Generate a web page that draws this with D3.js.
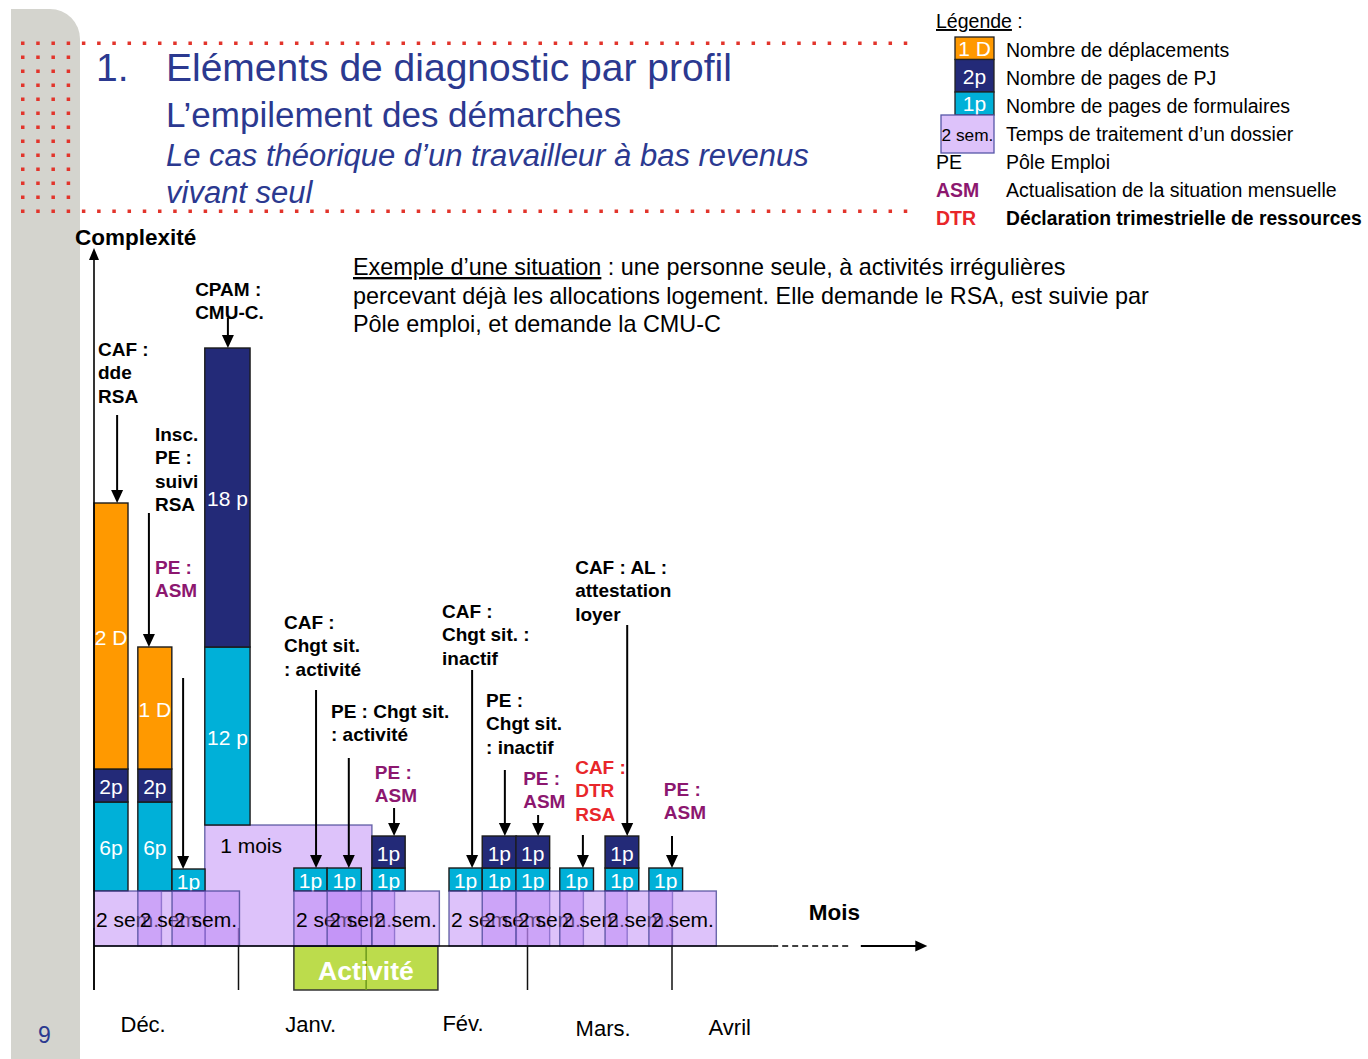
<!DOCTYPE html>
<html><head><meta charset="utf-8">
<script src="https://cdn.jsdelivr.net/npm/d3@7"></script>
<style>
body{margin:0;background:#fff;}
svg{display:block;font-family:"Liberation Sans",Arial,Helvetica,sans-serif;}
</style>
</head><body>
<svg id="c" width="1368" height="1059"></svg>
<script>
// ---------------- DATA ----------------
// each démarche (event): start day, width in days of its stack
const eventStart = [0, 9.1, 16.2, 23, 41.5, 48.4, 57.7, 73.7, 80.6, 87.6, 96.7, 106.1, 115.2];
const eventWidth = [7.06, 7.06, 6.85, 9.4, 6.9, 7.1, 6.9, 6.9, 7.1, 7.0, 7.0, 7.0, 7.0];
// processing time box (temps de traitement)
const delayDays   = [14, 14, 14, 34.7, 14, 14, 14, 14, 14, 14, 14, 14, 14];
const delayHeight = [5.5, 5.5, 5.5, 12.1, 5.5, 5.5, 5.5, 5.5, 5.5, 5.5, 5.5, 5.5, 5.5];
const delayLabel  = ["2 sem.","2 sem.","2 sem.","1 mois","2 sem.","2 sem.","2 sem.","2 sem.","2 sem.","2 sem.","2 sem.","2 sem.","2 sem."];
// pages de formulaires (cyan)
const formPages = [8.9, 8.9, 2.2, 17.8, 2.3, 2.3, 2.3, 2.3, 2.3, 2.3, 2.3, 2.3, 2.3];
const formLabel = ["6p","6p","1p","12 p","1p","1p","1p","1p","1p","1p","1p","1p","1p"];
// pages de PJ (navy)
const pjPages = [3.3, 3.3, 0, 29.9, 0, 0, 3.2, 0, 3.2, 3.2, 0, 3.2, 0];
const pjLabel = ["2p","2p","","18 p","","","1p","","1p","1p","","1p",""];
// déplacements (orange)
const deplacements = [26.6, 12.2, 0, 0, 0, 0, 0, 0, 0, 0, 0, 0, 0];
const deplLabel = ["2 D","1 D","","","","","","","","","","",""];
// annotations (one per démarche)
const annotLines = [
  ["CAF :","dde","RSA"],
  ["Insc.","PE :","suivi","RSA"],
  ["PE :","ASM"],
  ["CPAM :","CMU-C."],
  ["CAF :","Chgt sit.",": activité"],
  ["PE : Chgt sit.",": activité"],
  ["PE :","ASM"],
  ["CAF :","Chgt sit. :","inactif"],
  ["PE :","Chgt sit.",": inactif"],
  ["PE :","ASM"],
  ["CAF :","DTR","RSA"],
  ["CAF : AL :","attestation","loyer"],
  ["PE :","ASM"]
];
const annotKind = ["n","n","asm","n","n","n","asm","n","n","asm","dtr","n","asm"];
const annotX = [0.83, 12.66, 12.66, 21.0, 39.45, 49.2, 58.3, 72.25, 81.4, 89.1, 99.9, 99.9, 118.3];
const annotY = [59.0, 50.5, 37.2, 65.0, 31.7, 22.8, 16.7, 32.8, 23.9, 16.1, 17.2, 37.2, 15.0];
const arrowX    = [4.8, 11.4, 18.5, 27.8, 46.1, 52.9, 62.3, 78.5, 85.3, 92.2, 101.5, 110.7, 120];
const arrowFrom = [53.1, 43.3, 26.8, 62.8, 25.6, 18.8, 13.8, 27.6, 17.6, 13.1, 11.1, 32.1, 11.0];
// months
const monthNames = ["Déc.","Janv.","Fév.","Mars.","Avril"];
const monthLabelX = [10.2, 45, 76.6, 105.7, 132];
const monthLabelY = [-8.6, -8.6, -8.5, -9.0, -8.9];
const monthTicks = [0, 30, 90, 120];
const activite = {start: 41.5, end: 71.4, mid: 56.5, label: "Activité"};

// ---------------- STYLE ----------------
const C = {orange:"#ff9900", navy:"#232a78", cyan:"#00b0d8", lav:"rgb(187,133,245)",
           lavSolid:"#ddc2fa", green:"#bcdc4c", title:"#2b3990", purple:"#8c176f", red:"#e8262a",
           dot:"#e2342b", panel:"#d4d4ce"};

const svg = d3.select("#c");
const x = d3.scaleLinear().domain([0, 30]).range([94, 238.5]);
const y = d3.scaleLinear().domain([0, 70]).range([946, 246]);

// ---------------- BACKGROUND ----------------
svg.append("rect").attr("width",1368).attr("height",1059).attr("fill","#fff");
svg.append("path").attr("d","M11,9 H50 A30,30 0 0 1 80,39 V1059 H11 Z").attr("fill",C.panel);

const dots = svg.append("g").attr("fill",C.dot);
for (let px = 21; px <= 912; px += 15.22) {
  [41.5, 209.5].forEach(py => dots.append("rect").attr("x",px).attr("y",py).attr("width",3.5).attr("height",3.5));
}
for (let c = 0; c < 4; c++) for (let r = 1; r < 12; r++) {
  dots.append("rect").attr("x",21 + c*15.22).attr("y",41.5 + r*14).attr("width",3.5).attr("height",3.5);
}

// ---------------- TITLE ----------------
const tg = svg.append("g").attr("fill",C.title);
tg.append("text").attr("x",96).attr("y",81).attr("font-size",39).text("1.");
tg.append("text").attr("x",166).attr("y",81).attr("font-size",39).text("Eléments de diagnostic par profil");
tg.append("text").attr("x",166).attr("y",127).attr("font-size",35).text("L’empilement des démarches");
tg.append("text").attr("x",166).attr("y",166).attr("font-size",31).attr("font-style","italic").text("Le cas théorique d’un travailleur à bas revenus");
tg.append("text").attr("x",166).attr("y",203).attr("font-size",31).attr("font-style","italic").text("vivant seul");
svg.append("text").attr("x",38).attr("y",1043).attr("font-size",23).attr("fill",C.title).text("9");

// ---------------- LEGEND ----------------
const lg = svg.append("g").attr("font-size",19.5);
lg.append("text").attr("x",936).attr("y",28).html('<tspan text-decoration="underline">Légende</tspan> :');
const sw = [
  {x:955,y:37,w:39,h:22.5,fill:C.orange,t:"1 D",tc:"#fff",fs:21},
  {x:955,y:59.5,w:39,h:32.5,fill:C.navy,t:"2p",tc:"#fff",fs:21},
  {x:955,y:92,w:39,h:23,fill:C.cyan,t:"1p",tc:"#fff",fs:21}
];
sw.forEach(s=>{
  lg.append("rect").attr("x",s.x).attr("y",s.y).attr("width",s.w).attr("height",s.h)
    .attr("fill",s.fill).attr("stroke","#222").attr("stroke-width",1.3);
  lg.append("text").attr("x",s.x+s.w/2).attr("y",s.y+s.h/2).attr("dy","0.38em").attr("text-anchor","middle")
    .attr("fill",s.tc).attr("font-size",s.fs).text(s.t);
});
lg.append("rect").attr("x",941).attr("y",115).attr("width",53).attr("height",38)
  .attr("fill",C.lavSolid).attr("stroke","#5656a8").attr("stroke-width",1.3);
lg.append("text").attr("x",967.5).attr("y",141).attr("text-anchor","middle").attr("font-size",17.3).text("2 sem.");
const legLabels = ["Nombre de déplacements","Nombre de pages de PJ","Nombre de pages de formulaires",
  "Temps de traitement d’un dossier","Pôle Emploi","Actualisation de la situation mensuelle",
  "Déclaration trimestrielle de ressources"];
legLabels.forEach((t,i)=>{
  lg.append("text").attr("x",1006).attr("y",57+28*i).attr("font-weight", i===6?"bold":"normal")
    .attr("font-size", i===6?19.3:19.5).text(t);
});
lg.append("text").attr("x",936).attr("y",169).text("PE");
lg.append("text").attr("x",936).attr("y",197).attr("font-weight","bold").attr("fill",C.purple).text("ASM");
lg.append("text").attr("x",936).attr("y",225).attr("font-weight","bold").attr("fill",C.red).text("DTR");

// ---------------- DESCRIPTION ----------------
const dg = svg.append("g").attr("font-size",23.4);
dg.append("text").attr("x",353).attr("y",275).html('<tspan text-decoration="underline">Exemple d’une situation</tspan> : une personne seule, à activités irrégulières');
dg.append("text").attr("x",353).attr("y",304).text("percevant déjà les allocations logement. Elle demande le RSA, est suivie par");
dg.append("text").attr("x",353).attr("y",332).text("Pôle emploi, et demande la CMU-C");

// ---------------- CHART ----------------
// month ticks (behind)
svg.append("g").selectAll("line").data(monthTicks).join("line")
  .attr("x1",d=>x(d)).attr("x2",d=>x(d)).attr("y1",y(1.8)).attr("y2",y(-4.4))
  .attr("stroke","#111").attr("stroke-width",1.5);

// Activité box
const ag = svg.append("g");
ag.append("rect").attr("x",x(activite.start)).attr("y",y(0)).attr("width",x(activite.end)-x(activite.start))
  .attr("height",y(-4.4)-y(0)).attr("fill",C.green).attr("stroke","#333").attr("stroke-width",1.5);
ag.append("line").attr("x1",x(activite.mid)).attr("x2",x(activite.mid)).attr("y1",y(0)).attr("y2",y(-4.4))
  .attr("stroke","#6c9a1c").attr("stroke-width",1.5);
ag.append("text").attr("x",(x(activite.start)+x(activite.end))/2).attr("y",y(-3.4)).attr("text-anchor","middle")
  .attr("fill","#fff").attr("font-weight","bold").attr("font-size",26.5).text(activite.label);

// processing-time box drawer
function drawBox(g, i){
  const x0 = x(eventStart[i]), x1 = x(eventStart[i]+delayDays[i]);
  g.append("rect").attr("x",x0).attr("y",y(delayHeight[i])).attr("width",x1-x0).attr("height",y(0)-y(delayHeight[i]))
    .attr("fill",C.lav).attr("fill-opacity",0.5).attr("stroke","#3d3d8f").attr("stroke-opacity",0.75).attr("stroke-width",1.4);
  const tall = delayHeight[i] > 6;
  g.append("text").attr("x", tall ? x(eventStart[i]+3.2) : x0+2)
    .attr("y", tall ? y(delayHeight[i]-2.8) : y(1.9)).attr("font-size",21).attr("fill","#000").text(delayLabel[i]);
}
const idx = d3.range(eventStart.length);
// long (1 mois) boxes behind everything
const boxesBack = svg.append("g");
idx.filter(i=>delayHeight[i] > 6).forEach(i=>drawBox(boxesBack,i));

// stacks
const stacks = svg.append("g");
eventStart.forEach((s,i)=>{
  let base = delayHeight[i];
  const segs = [[formPages[i],C.cyan,formLabel[i]],[pjPages[i],C.navy,pjLabel[i]],[deplacements[i],C.orange,deplLabel[i]]];
  segs.forEach(([h,fill,lbl])=>{
    if (h<=0) return;
    const x0 = x(s), x1 = x(s+eventWidth[i]);
    stacks.append("rect").attr("x",x0).attr("y",y(base+h)).attr("width",x1-x0).attr("height",y(base)-y(base+h))
      .attr("fill",fill).attr("stroke","#1b1b1b").attr("stroke-width",1.4);
    stacks.append("text").attr("x",(x0+x1)/2).attr("y",(y(base)+y(base+h))/2).attr("dy","0.42em")
      .attr("text-anchor","middle").attr("fill","#fff").attr("font-size",21).text(lbl);
    base += h;
  });
});

// short (2 sem.) boxes in front
const boxes = svg.append("g");
idx.filter(i=>delayHeight[i] <= 6).forEach(i=>drawBox(boxes,i));

// axes
const ax = svg.append("g").attr("stroke","#000").attr("stroke-width",1.6);
ax.append("line").attr("x1",x(0)).attr("x2",x(0)).attr("y1",y(-4.4)).attr("y2",y(69.8)+10);
svg.append("path").attr("d",`M${x(0)},${y(69.8)} l-5,12 h10 Z`).attr("fill","#000");
ax.append("line").attr("x1",x(0)).attr("x2",x(140.8)).attr("y1",y(0)).attr("y2",y(0));
ax.append("line").attr("x1",x(140.8)).attr("x2",x(157)).attr("y1",y(0)).attr("y2",y(0)).attr("stroke-dasharray","6,4");
ax.append("line").attr("x1",x(159.2)).attr("x2",x(173)-10).attr("y1",y(0)).attr("y2",y(0)).attr("stroke-width",2);
svg.append("path").attr("d",`M${x(173)},${y(0)} l-12,-5.5 v11 Z`).attr("fill","#000");
svg.append("text").attr("x",75).attr("y",245).attr("font-weight","bold").attr("font-size",22.5).text("Complexité");
svg.append("text").attr("x",x(148.4)).attr("y",y(2.6)).attr("font-weight","bold").attr("font-size",22.5).text("Mois");

// month labels
svg.append("g").selectAll("text").data(monthNames).join("text")
  .attr("x",(d,i)=>x(monthLabelX[i])).attr("y",(d,i)=>y(monthLabelY[i])).attr("text-anchor","middle")
  .attr("font-size",22).text(d=>d);

// annotations
const an = svg.append("g").attr("font-weight","bold").attr("font-size",19);
annotLines.forEach((lines,i)=>{
  const col = annotKind[i]==="asm" ? C.purple : annotKind[i]==="dtr" ? C.red : "#000";
  lines.forEach((t,j)=>{
    an.append("text").attr("x",x(annotX[i])).attr("y",y(annotY[i]-2.33*j)).attr("fill",col).text(t);
  });
});

// arrows
const ar = svg.append("g");
arrowX.forEach((ax0,i)=>{
  const top = delayHeight[i]+formPages[i]+pjPages[i]+deplacements[i];
  const px = x(ax0), ty = y(top);
  ar.append("line").attr("x1",px).attr("x2",px).attr("y1",y(arrowFrom[i])).attr("y2",ty-10)
    .attr("stroke","#000").attr("stroke-width",2);
  ar.append("path").attr("d",`M${px},${ty} l-6,-13 h12 Z`).attr("fill","#000");
});
</script>
</body></html>
